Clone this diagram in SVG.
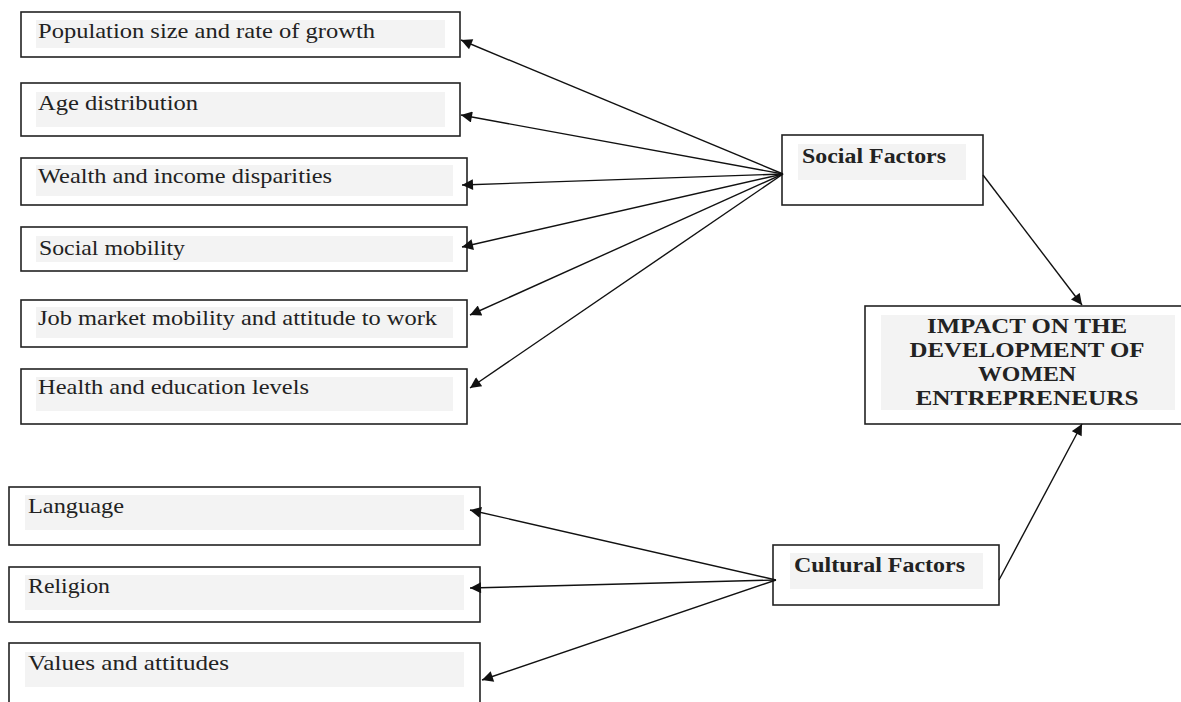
<svg xmlns="http://www.w3.org/2000/svg" width="1181" height="702" viewBox="0 0 1181 702">
<defs>
<style>
.box{fill:#fff;stroke:#222;stroke-width:1.6}
.shade{fill:#f3f3f3}
.t{font-family:"Liberation Serif","Times New Roman",serif;font-size:22px;fill:#222}
.b{font-family:"Liberation Serif","Times New Roman",serif;font-size:20px;font-weight:bold;fill:#222}
.c{stroke:#111;stroke-width:1.4;fill:none;marker-end:url(#ah)}
</style>
<marker id="ah" viewBox="0 0 10 10" refX="10" refY="5" markerWidth="13" markerHeight="11" markerUnits="userSpaceOnUse" orient="auto">
<path d="M0,0 L10,5 L0,10 z" fill="#111"/>
</marker>
</defs>
<rect width="1181" height="702" fill="#fff"/>
<g id="n1"><rect class="box" x="21" y="12" width="439" height="45"/><rect class="shade" x="36" y="20" width="409" height="28"/><text class="t" x="38" y="38" textLength="337" lengthAdjust="spacingAndGlyphs">Population size and rate of growth</text></g>
<g id="n2"><rect class="box" x="21" y="83" width="439" height="53"/><rect class="shade" x="36" y="92" width="409" height="35"/><text class="t" x="38" y="110" textLength="160" lengthAdjust="spacingAndGlyphs">Age distribution</text></g>
<g id="n3"><rect class="box" x="21" y="158" width="446" height="47"/><rect class="shade" x="36" y="165" width="417" height="31"/><text class="t" x="38" y="183" textLength="294" lengthAdjust="spacingAndGlyphs">Wealth and income disparities</text></g>
<g id="n4"><rect class="box" x="21" y="227" width="446" height="44"/><rect class="shade" x="36" y="236" width="417" height="26"/><text class="t" x="39" y="255" textLength="146" lengthAdjust="spacingAndGlyphs">Social mobility</text></g>
<g id="n5"><rect class="box" x="21" y="300" width="446" height="47"/><rect class="shade" x="36" y="307" width="417" height="31"/><text class="t" x="38" y="325" textLength="399" lengthAdjust="spacingAndGlyphs">Job market mobility and attitude to work</text></g>
<g id="n6"><rect class="box" x="21" y="369" width="446" height="55"/><rect class="shade" x="36" y="377" width="417" height="34"/><text class="t" x="38" y="394" textLength="271" lengthAdjust="spacingAndGlyphs">Health and education levels</text></g>
<g id="n7"><rect class="box" x="9" y="487" width="471" height="58"/><rect class="shade" x="25" y="495" width="439" height="35"/><text class="t" x="28" y="513" textLength="96" lengthAdjust="spacingAndGlyphs">Language</text></g>
<g id="n8"><rect class="box" x="9" y="567" width="471" height="55"/><rect class="shade" x="25" y="575" width="439" height="35"/><text class="t" x="28" y="593" textLength="82" lengthAdjust="spacingAndGlyphs">Religion</text></g>
<g id="n9"><rect class="box" x="9" y="643" width="471" height="70"/><rect class="shade" x="25" y="652" width="439" height="35"/><text class="t" x="28" y="670" textLength="201" lengthAdjust="spacingAndGlyphs">Values and attitudes</text></g>
<g id="social"><rect class="box" x="782" y="135" width="201" height="70"/><rect class="shade" x="798" y="144" width="168" height="36"/><text class="b" x="802" y="163" textLength="144" lengthAdjust="spacingAndGlyphs">Social Factors</text></g>
<g id="cultural"><rect class="box" x="773" y="545" width="226" height="60"/><rect class="shade" x="790" y="553" width="193" height="36"/><text class="b" x="794" y="572" textLength="171" lengthAdjust="spacingAndGlyphs">Cultural Factors</text></g>
<g id="impact"><rect class="box" x="865" y="306" width="320" height="118"/><rect class="shade" x="881" y="315" width="294" height="95"/>
<text class="b" text-anchor="middle"><tspan x="1027" y="333" textLength="200" lengthAdjust="spacingAndGlyphs">IMPACT ON THE</tspan><tspan x="1027" y="357" textLength="235" lengthAdjust="spacingAndGlyphs">DEVELOPMENT OF</tspan><tspan x="1027" y="381" textLength="98" lengthAdjust="spacingAndGlyphs">WOMEN</tspan><tspan x="1027" y="405" textLength="223" lengthAdjust="spacingAndGlyphs">ENTREPRENEURS</tspan></text></g>
<g id="connectors">
<line class="c" x1="783" y1="174" x2="461" y2="40"/>
<line class="c" x1="783" y1="174" x2="461" y2="115"/>
<line class="c" x1="783" y1="174" x2="462" y2="185"/>
<line class="c" x1="783" y1="174" x2="462" y2="247"/>
<line class="c" x1="783" y1="174" x2="470" y2="315"/>
<line class="c" x1="783" y1="174" x2="470" y2="388"/>
<line class="c" x1="776" y1="580" x2="470" y2="510"/>
<line class="c" x1="776" y1="580" x2="470" y2="588"/>
<line class="c" x1="776" y1="580" x2="482" y2="680"/>
<line class="c" x1="983" y1="175" x2="1082" y2="305"/>
<line class="c" x1="999" y1="580" x2="1082" y2="424"/>
</g>
</svg>
